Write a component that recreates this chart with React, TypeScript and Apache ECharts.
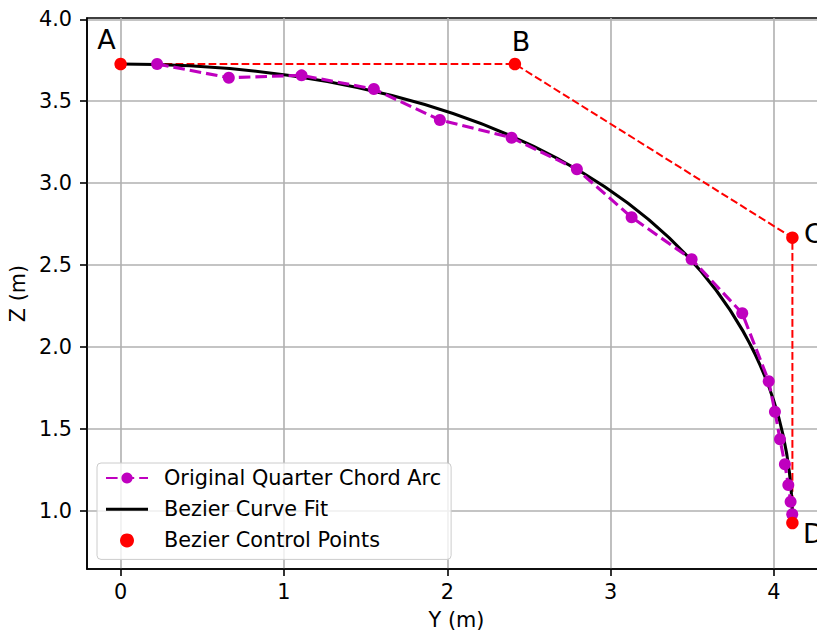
import React, { useEffect, useRef } from "react";
import * as echarts from "echarts";

// Original quarter chord arc (Y, Z) in metres
const arcY = [0.2235, 0.6626, 1.1078, 1.5505, 1.9547, 2.3938, 2.7936, 3.1286, 3.496, 3.8059, 3.968, 4.006, 4.037, 4.067, 4.088, 4.102, 4.112];
const arcZ = [3.727, 3.6435, 3.658, 3.5745, 3.3852, 3.2772, 3.0842, 2.7912, 2.5348, 2.2051, 1.7906, 1.6044, 1.4359, 1.2833, 1.1569, 1.0549, 0.978];

// Bezier control points
const ctrlNames = ["A", "B", "C", "D"];
const ctrlY = [0, 2.414, 4.113, 4.113];
const ctrlZ = [3.727, 3.727, 2.667, 0.925];

// Tick values
const xTicks = [0, 1, 2, 3, 4];
const yTicks = [1.0, 1.5, 2.0, 2.5, 3.0, 3.5, 4.0];

const FONT = "DejaVu Sans";
const FS = 20.8;

// label offsets (pixels) for control point letters
const labelOffsets = [
  [-14, -25],
  [6, -23],
  [21, -4],
  [21, 11],
];

export default function App() {
  const ref = useRef<HTMLDivElement>(null);

  useEffect(() => {
    if (!ref.current) return;
    const chart = echarts.init(ref.current, null, { renderer: "svg" });

    const arcData = arcY.map((y, i) => [y, arcZ[i]]);
    const ctrlLine = ctrlY.map((y, i) => [y, ctrlZ[i]]);
    const ctrlPts = ctrlY.map((y, i) => ({
      value: [y, ctrlZ[i]],
      name: ctrlNames[i],
      label: {
        show: true,
        formatter: ctrlNames[i],
        position: "inside",
        offset: labelOffsets[i],
        fontSize: 27,
        fontFamily: FONT,
        color: "#000",
      },
    }));

    const axisCommon = {
      axisLine: { show: true, onZero: false, lineStyle: { color: "#000", width: 1.6 } },
      axisTick: { show: true, inside: false, length: 7, lineStyle: { color: "#000", width: 1.6 } },
      splitLine: { show: true, lineStyle: { color: "#b0b0b0", width: 1.6 } },
      nameTextStyle: { fontSize: FS, fontFamily: FONT, color: "#000" },
    };

    chart.setOption({
      animation: false,
      backgroundColor: "#fff",
      textStyle: { fontFamily: FONT },
      grid: {
        left: 87,
        top: 18,
        width: 739,
        height: 551,
        outerBoundsMode: "none",
        containLabel: false,
        show: true,
        borderColor: "#000",
        borderWidth: 1.6,
        backgroundColor: "transparent",
      },
      legend: {
        orient: "vertical",
        left: 97,
        top: 463,
        itemWidth: 42,
        itemHeight: 14,
        itemGap: 10.2,
        padding: [4.5, 10, 8.5, 8],
        backgroundColor: "rgba(255,255,255,0.8)",
        borderColor: "#cccccc",
        borderWidth: 1,
        borderRadius: 4,
        textStyle: { fontSize: FS, fontFamily: FONT, color: "#000", lineHeight: 21, padding: [0, 0, 0, 11] },
        data: [
          { name: "Original Quarter Chord Arc" },
          { name: "Bezier Curve Fit", icon: "path://M0 0H42V3H0Z" },
          { name: "Bezier Control Points", icon: "circle" },
        ],
      },
      xAxis: {
        type: "value",
        min: -0.2057,
        max: 4.3187,
        name: "Y (m)",
        nameLocation: "middle",
        nameGap: 40,
        ...axisCommon,
        axisTick: { ...axisCommon.axisTick, customValues: xTicks },
        axisLabel: {
          customValues: xTicks,
          fontSize: FS,
          fontFamily: FONT,
          color: "#000",
          margin: 12,
          formatter: (v: number) => String(Math.round(v)),
        },
      },
      yAxis: {
        type: "value",
        min: 0.644,
        max: 4.008,
        name: "Z (m)",
        nameLocation: "middle",
        nameGap: 55,
        nameRotate: 90,
        ...axisCommon,
        axisTick: { ...axisCommon.axisTick, customValues: yTicks },
        axisLabel: {
          customValues: yTicks,
          fontSize: FS,
          fontFamily: FONT,
          color: "#000",
          margin: 15,
          formatter: (v: number) => v.toFixed(1),
        },
      },
      series: [
        {
          name: "ctrl-polygon",
          type: "line",
          data: ctrlLine,
          showSymbol: false,
          symbol: "none",
          lineStyle: { color: "#ff0000", width: 2, type: [7.7, 3.3] },
          z: 2,
          silent: true,
        },
        {
          name: "Bezier Curve Fit",
          type: "custom",
          data: [[ctrlY[0], ctrlZ[0]]],
          itemStyle: { color: "#000" },
          z: 3,
          renderItem: (_params: any, api: any) => {
            const p = ctrlY.map((y, i) => api.coord([y, ctrlZ[i]]));
            return {
              type: "bezierCurve",
              shape: {
                x1: p[0][0],
                y1: p[0][1],
                cpx1: p[1][0],
                cpy1: p[1][1],
                cpx2: p[2][0],
                cpy2: p[2][1],
                x2: p[3][0],
                y2: p[3][1],
              },
              style: { stroke: "#000", lineWidth: 3.1, fill: "none" },
            };
          },
        },
        {
          name: "Original Quarter Chord Arc",
          type: "line",
          data: arcData,
          symbol: "circle",
          symbolSize: 12,
          itemStyle: { color: "#bf00bf", opacity: 1 },
          lineStyle: { color: "#bf00bf", width: 3.1, type: [11.6, 5] },
          z: 4,
        },
        {
          name: "Bezier Control Points",
          type: "scatter",
          data: ctrlPts,
          symbol: "circle",
          symbolSize: 12.5,
          itemStyle: { color: "#ff0000", opacity: 1 },
          z: 5,
        },
      ],
    });

    return () => chart.dispose();
  }, []);

  return (
    <div
      ref={ref}
      style={{ position: "absolute", left: 0, top: 0, width: 817, height: 631 }}
    />
  );
}
